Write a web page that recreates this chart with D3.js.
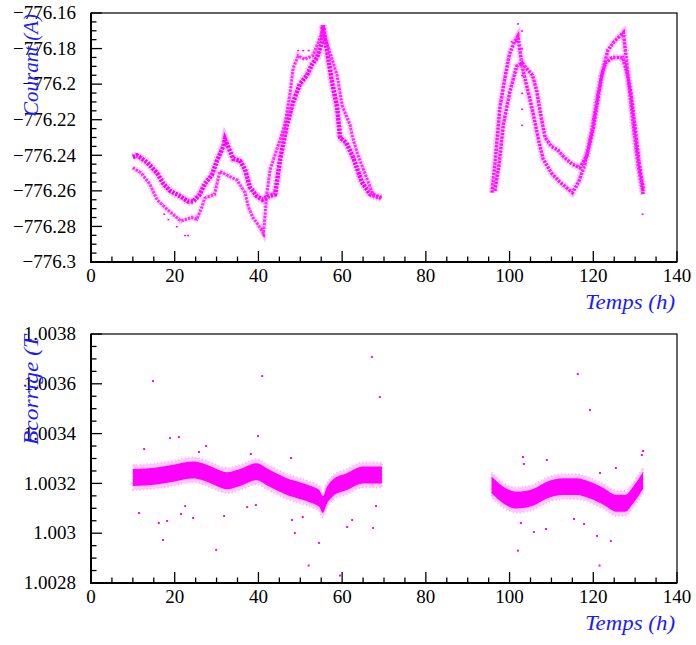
<!DOCTYPE html>
<html><head><meta charset="utf-8">
<script src="https://cdn.jsdelivr.net/npm/d3@7"></script>
<style>html,body{margin:0;padding:0;background:#fff;}svg{display:block;}</style>
</head><body><svg id="c" width="696" height="645"></svg>
<script>
// ---------- DATA ----------
const xTickValues = [0, 20, 40, 60, 80, 100, 120, 140];
const xTickLabels = ["0", "20", "40", "60", "80", "100", "120", "140"];
const topTickValues = [-776.16, -776.18, -776.2, -776.22, -776.24, -776.26, -776.28, -776.3];
const topTickLabels = ["\u2212776.16", "\u2212776.18", "\u2212776.2", "\u2212776.22", "\u2212776.24", "\u2212776.26", "\u2212776.28", "\u2212776.3"];
const botTickValues = [1.0038, 1.0036, 1.0034, 1.0032, 1.003, 1.0028];
const botTickLabels = ["1.0038", "1.0036", "1.0034", "1.0032", "1.003", "1.0028"];

// Courant: branches (time h, current A)
const curA_t = [10, 11, 13.4, 15.8, 17.3, 18.9, 21.3, 23.2, 24.4, 26, 27.2, 28.9, 30.1, 31.6, 32, 34, 35.6, 36.8, 38, 39.6, 41, 42.5, 44, 45.2, 46.8, 48.3, 49.9, 51.6, 52.8, 54, 55.2, 55.4, 57.6, 58.8, 59.5, 61, 62.6, 64.7, 66.7, 69.3];
const curA_v = [-776.241, -776.240, -776.244, -776.250, -776.256, -776.260, -776.263, -776.266, -776.266, -776.262, -776.256, -776.251, -776.243, -776.235, -776.231, -776.242, -776.243, -776.248, -776.258, -776.263, -776.265, -776.263, -776.262, -776.242, -776.223, -776.210, -776.200, -776.195, -776.189, -776.185, -776.176, -776.167, -776.199, -776.213, -776.230, -776.233, -776.241, -776.255, -776.262, -776.264];
const curB_t = [10, 12, 14, 15.8, 18, 20, 21.5, 24, 25.3, 26.5, 27.2, 28.4, 29.5, 30.8, 33.2, 34.9, 36.8, 37.6, 38.7, 39.9, 41.2, 42, 42.8, 44.5, 46.3, 47.5, 48.3, 49.5, 51, 53, 55.4, 56.5, 57.6, 58.8, 60, 61.9, 62.5, 63.8, 65.9, 67.4, 69.5];
const curB_v = [-776.247, -776.250, -776.256, -776.265, -776.270, -776.274, -776.277, -776.275, -776.276, -776.269, -776.264, -776.263, -776.262, -776.249, -776.252, -776.254, -776.261, -776.269, -776.275, -776.279, -776.284, -776.262, -776.248, -776.236, -776.223, -776.206, -776.191, -776.184, -776.186, -776.184, -776.170, -776.178, -776.186, -776.195, -776.212, -776.223, -776.230, -776.240, -776.253, -776.262, -776.264];
const curC_t = [95.8, 96.5, 97.7, 99, 100, 101.2, 102, 103, 104.5, 105.5, 107, 108, 110, 112, 114, 115, 116.5, 118, 119.5, 121, 122.5, 123.5, 125, 127.2, 128.3, 129.5, 130.7, 131.9];
const curC_v = [-776.261, -776.245, -776.213, -776.195, -776.183, -776.176, -776.173, -776.190, -776.205, -776.215, -776.232, -776.242, -776.250, -776.255, -776.259, -776.261, -776.255, -776.245, -776.228, -776.207, -776.190, -776.181, -776.176, -776.171, -776.195, -776.222, -776.245, -776.262];
const curD_t = [96.5, 97.5, 98.5, 100, 101.7, 103, 104, 105.5, 106.5, 107.5, 108.5, 110, 111.5, 113, 115, 116.8, 118.5, 120, 121, 122, 123, 124.5, 126, 127, 128, 129, 130, 131, 132];
const curD_v = [-776.260, -776.245, -776.223, -776.205, -776.190, -776.188, -776.191, -776.195, -776.204, -776.218, -776.230, -776.235, -776.237, -776.241, -776.245, -776.247, -776.240, -776.225, -776.210, -776.195, -776.188, -776.185, -776.185, -776.185, -776.193, -776.205, -776.225, -776.245, -776.260];
const curOut_t = [22.5, 23.2, 20.5, 18.5, 17.5, 40.8, 41.3, 49.5, 50.7, 52, 103, 103, 103, 103, 103, 103, 131.8, 102, 100.5, 101.6];
const curOut_v = [-776.285, -776.285, -776.280, -776.276, -776.273, -776.281, -776.285, -776.181, -776.181, -776.181, -776.170, -776.180, -776.195, -776.205, -776.214, -776.223, -776.273, -776.166, -776.176, -776.176];

// B corrige: band centre (time h, field T)
const bL_t = [10, 13, 17.2, 20, 24.4, 26.5, 29.2, 32.5, 35.6, 39.6, 42, 44.5, 46.8, 49.9, 53, 54.5, 55.4, 56.3, 57.8, 61.1, 65, 69.5];
const bL_v = [1.003224, 1.003226, 1.003234, 1.003242, 1.003254, 1.003248, 1.00323, 1.003211, 1.003224, 1.003247, 1.003227, 1.003205, 1.003187, 1.003171, 1.003153, 1.003140, 1.003115, 1.003150, 1.003182, 1.003207, 1.003234, 1.003234];
const bR_t = [95.7, 98.5, 101.7, 105.6, 108.9, 112.8, 116, 119.2, 122.3, 125.6, 127.6, 129.5, 131.9];
const bR_v = [1.003194, 1.003153, 1.003133, 1.003144, 1.003173, 1.003187, 1.003187, 1.003173, 1.003149, 1.00312, 1.00312, 1.003153, 1.003213];
const bOut_t = [14.8, 40.9, 67.1, 69.0, 116.3, 119.2, 18.9, 12.7, 21.0, 39.9, 27.5, 25.8, 38.2, 47.8, 103.2, 103.4, 108.9, 125.4, 131.9, 131.6, 121.6, 11.5, 16.2, 17.2, 18.2, 21.5, 22.5, 24.4, 31.8, 29.9, 37.3, 39.4, 48.0, 48.7, 50.6, 54.5, 61.2, 62.4, 67.4, 68.1, 102.7, 105.8, 108.7, 115.4, 117.8, 120.9, 124.2, 52.0, 59.5, 102.0, 121.5];
const bOut_v = [1.003611, 1.003631, 1.003708, 1.003547, 1.003639, 1.003495, 1.003382, 1.003338, 1.003386, 1.00339, 1.00335, 1.003326, 1.003318, 1.003302, 1.003306, 1.003278, 1.003294, 1.003262, 1.00333, 1.003314, 1.003242, 1.003081, 1.003041, 1.002973, 1.003049, 1.003077, 1.003109, 1.003061, 1.003069, 1.002933, 1.003105, 1.003113, 1.003053, 1.003001, 1.003065, 1.002961, 1.003025, 1.003053, 1.003021, 1.003109, 1.003041, 1.003005, 1.003017, 1.003057, 1.003037, 1.002989, 1.002969, 1.00287, 1.00283, 1.00293, 1.00287];

// ---------- DRAW ----------
const svg = d3.select("#c");
const L = 91, R = 677;
const MAG = "#ff00ff", BLUE = "#1a1aff";
const FONT = "'Liberation Serif','Times New Roman',serif";

function panel(top, bottom, yDomain, tVals, tLabels, minorStep, yTitle, titleLen) {
  const g = svg.append("g");
  const x = d3.scaleLinear().domain([0, 140]).range([L, R]);
  const y = d3.scaleLinear().domain(yDomain).range([bottom, top]);
  const xMinor = d3.range(0, 140.001, 5);
  g.append("g").selectAll("line").data(xMinor).join("line")
    .attr("x1", d => x(d)).attr("x2", d => x(d))
    .attr("y1", bottom).attr("y2", d => bottom - (d % 20 === 0 ? 11 : 5.5))
    .attr("stroke", "#000").attr("stroke-width", 1.3);
  const yMinor = d3.range(0, 29).map(i => yDomain[0] + i * minorStep).filter(v => v <= yDomain[1] + 1e-9);
  g.append("g").selectAll("line").data(yMinor).join("line")
    .attr("x1", L).attr("x2", (d, i) => L + (i % 4 === 0 ? 11 : 5.5))
    .attr("y1", d => y(d)).attr("y2", d => y(d))
    .attr("stroke", "#000").attr("stroke-width", 1.3);
  g.append("g").selectAll("text").data(xTickValues).join("text")
    .attr("x", d => x(d)).attr("y", bottom + 20)
    .attr("text-anchor", "middle").attr("font-family", FONT).attr("font-size", 19)
    .text((d, i) => xTickLabels[i]);
  g.append("g").selectAll("text").data(tVals).join("text")
    .attr("x", 76).attr("y", d => y(d)).attr("dy", "0.33em")
    .attr("text-anchor", "end").attr("font-family", FONT).attr("font-size", 19)
    .text((d, i) => tLabels[i]);
  g.append("rect").attr("x", L).attr("y", top).attr("width", R - L).attr("height", bottom - top)
    .attr("fill", "none").attr("stroke", "#000").attr("stroke-width", 1.2);
  g.append("path").attr("d", `M${L},${top}V${bottom}H${R}`).attr("fill", "none")
    .attr("stroke", "#000").attr("stroke-width", 2);
  g.append("text").attr("x", R - 2).attr("y", bottom + 47)
    .attr("text-anchor", "end").attr("font-family", FONT).attr("font-style", "italic")
    .attr("font-size", 20).attr("fill", BLUE)
    .attr("textLength", 90).attr("lengthAdjust", "spacingAndGlyphs").text("Temps (h)");
  g.append("text").attr("transform", `translate(38,${top + 1}) rotate(-90)`)
    .attr("text-anchor", "end").attr("font-family", FONT).attr("font-style", "italic")
    .attr("font-size", 20).attr("fill", BLUE)
    .attr("textLength", titleLen).attr("lengthAdjust", "spacingAndGlyphs").text(yTitle);
  return {x, y, g};
}

const p1 = panel(13, 262, [-776.3, -776.16], topTickValues, topTickLabels, 0.005, "Courant (A)", 102);
const p2 = panel(334, 583, [1.0028, 1.0038], botTickValues, botTickLabels, 0.00005, "Bcorrige (T", 110);

// top: branches
const dataLayer1 = svg.insert("g", ":first-child");
[[curA_t, curA_v, 1, 8, 4.5], [curB_t, curB_v, 0.8, 6, 3], [curC_t, curC_v, 0.9, 7, 3.5], [curD_t, curD_v, 0.9, 7, 3.5]].forEach(([ts, vs, o, wOut, wIn]) => {
  const pts = ts.map((t, i) => [t, vs[i]]);
  const line = d3.line().x(d => p1.x(d[0])).y(d => p1.y(d[1]));
  dataLayer1.append("path").attr("d", line(pts)).attr("fill", "none")
    .attr("stroke", "#ff66ff").attr("stroke-width", wOut).attr("stroke-dasharray", "1.5 1.5")
    .attr("opacity", 0.5 * o);
  dataLayer1.append("path").attr("d", line(pts)).attr("fill", "none")
    .attr("stroke", MAG).attr("stroke-width", wIn).attr("stroke-dasharray", "2.5 1")
    .attr("opacity", o);
});
dataLayer1.selectAll("rect.o").data(curOut_t).join("rect")
  .attr("x", d => p1.x(d) - 1).attr("y", (d, i) => p1.y(curOut_v[i]) - 0.5)
  .attr("width", 2).attr("height", 1.5).attr("fill", MAG);

// bottom: band
const dataLayer2 = svg.insert("g", ":first-child");
[[bL_t, bL_v], [bR_t, bR_v]].forEach(([ts, vs]) => {
  const pts = ts.map((t, i) => [t, vs[i]]);
  const outer = d3.area().curve(d3.curveMonotoneX).x(d => p2.x(d[0]))
    .y0(d => p2.y(d[1] - 0.00005)).y1(d => p2.y(d[1] + 0.00005));
  const inner = d3.area().curve(d3.curveMonotoneX).x(d => p2.x(d[0]))
    .y0(d => p2.y(d[1] - 0.000034)).y1(d => p2.y(d[1] + 0.000034));
  dataLayer2.append("path").attr("d", outer(pts)).attr("fill", "#ff80ff").attr("opacity", 0.4)
    .attr("stroke", "#ff33ff").attr("stroke-width", 2).attr("stroke-dasharray", "1 2.5");
  dataLayer2.append("path").attr("d", inner(pts)).attr("fill", MAG);
});
dataLayer2.selectAll("rect.o").data(bOut_t).join("rect")
  .attr("x", d => p2.x(d) - 1).attr("y", (d, i) => p2.y(bOut_v[i]) - 1)
  .attr("width", 2).attr("height", 2).attr("fill", MAG);
</script></body></html>
